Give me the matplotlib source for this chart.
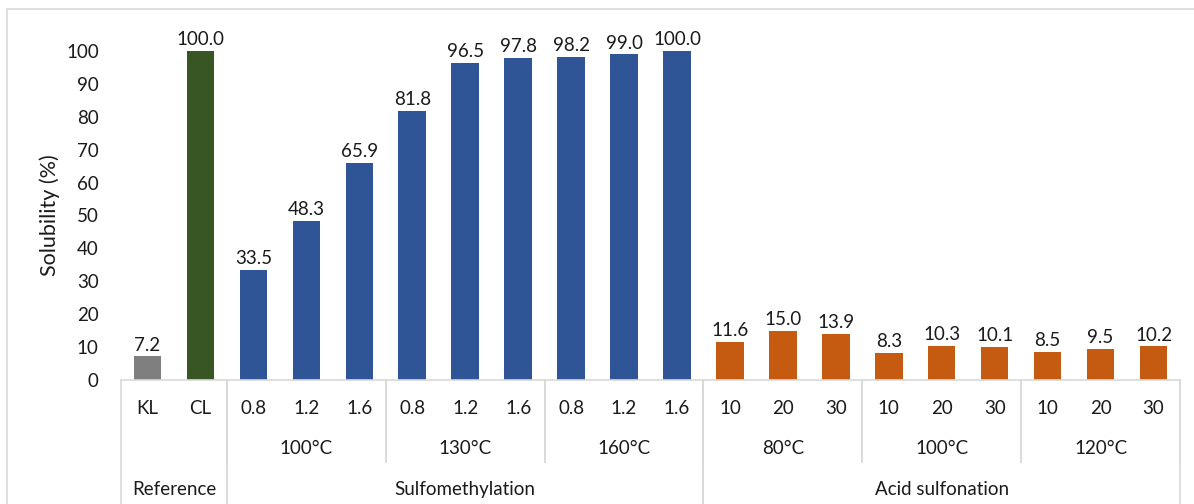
import matplotlib
matplotlib.use('Agg')
import matplotlib.pyplot as plt
from matplotlib.patches import Rectangle

plt.rcParams['font.family'] = ['Lato', 'DejaVu Sans']

# data
ticks = ['KL', 'CL', '0.8', '1.2', '1.6', '0.8', '1.2', '1.6', '0.8', '1.2', '1.6',
         '10', '20', '30', '10', '20', '30', '10', '20', '30']
values = [7.2, 100.0, 33.5, 48.3, 65.9, 81.8, 96.5, 97.8, 98.2, 99.0, 100.0,
          11.6, 15.0, 13.9, 8.3, 10.3, 10.1, 8.5, 9.5, 10.2]
colors = ['#7f7f7f', '#375623'] + ['#2f5597'] * 9 + ['#c55a11'] * 9

temps = ['100°C', '130°C', '160°C', '80°C', '100°C', '120°C']
temp_spans = [(2, 5), (5, 8), (8, 11), (11, 14), (14, 17), (17, 20)]
groups = ['Reference', 'Sulfomethylation', 'Acid sulfonation']
group_spans = [(0, 2), (2, 11), (11, 20)]

fs = 13.5
tc = '#1a1a1a'

fig = plt.figure(figsize=(11.94, 5.04), dpi=100)
ax = fig.add_axes([121 / 1194, 124 / 504, 1059 / 1194, 329 / 504])

x = [i + 0.5 for i in range(len(values))]
bars = ax.bar(x, values, width=0.52, color=colors, clip_on=False, zorder=2)
for b, v in zip(bars, values):
    ax.annotate(f'{v:.1f}', (b.get_x() + b.get_width() / 2, v),
                xytext=(0, 2), textcoords='offset points',
                ha='center', va='bottom', fontsize=fs, color=tc)

ax.set_xlim(0, len(values))
ax.set_ylim(0, 100)
ax.set_yticks(range(0, 101, 10))
ax.tick_params(axis='y', length=0, labelsize=fs, pad=16, labelcolor=tc)
ax.set_xticks([])
for s in ['top', 'right', 'left']:
    ax.spines[s].set_visible(False)
ax.spines['bottom'].set_color('#d9d9d9')
ax.spines['bottom'].set_linewidth(1.2)
ax.set_ylabel('Solubility (%)', fontsize=15.5, color=tc, labelpad=4)

tr = ax.get_xaxis_transform()
line_kw = dict(transform=tr, clip_on=False, color='#d9d9d9', lw=1.2)

# category label rows
for xi, t in zip(x, ticks):
    ax.text(xi, -0.088, t, transform=tr, ha='center', va='center', fontsize=fs, color=tc)
for (a, b), t in zip(temp_spans, temps):
    ax.text((a + b) / 2, -0.207, t, transform=tr, ha='center', va='center', fontsize=fs, color=tc)
for (a, b), t in zip(group_spans, groups):
    ax.text((a + b) / 2, -0.334, t, transform=tr, ha='center', va='center', fontsize=fs, color=tc)

# separators
for a, b in temp_spans:
    for e in (a, b):
        ax.plot([e, e], [0, -0.249], **line_kw)
for a, b in group_spans:
    for e in (a, b):
        ax.plot([e, e], [0, -0.4], **line_kw)

# outer frame
fig.patches.append(Rectangle((7 / 1194, -0.1), 1.2, (504 - 9) / 504 + 0.1,
                             transform=fig.transFigure, fill=False,
                             edgecolor='#d9d9d9', lw=1.2))

fig.savefig('out.png', dpi=100)
